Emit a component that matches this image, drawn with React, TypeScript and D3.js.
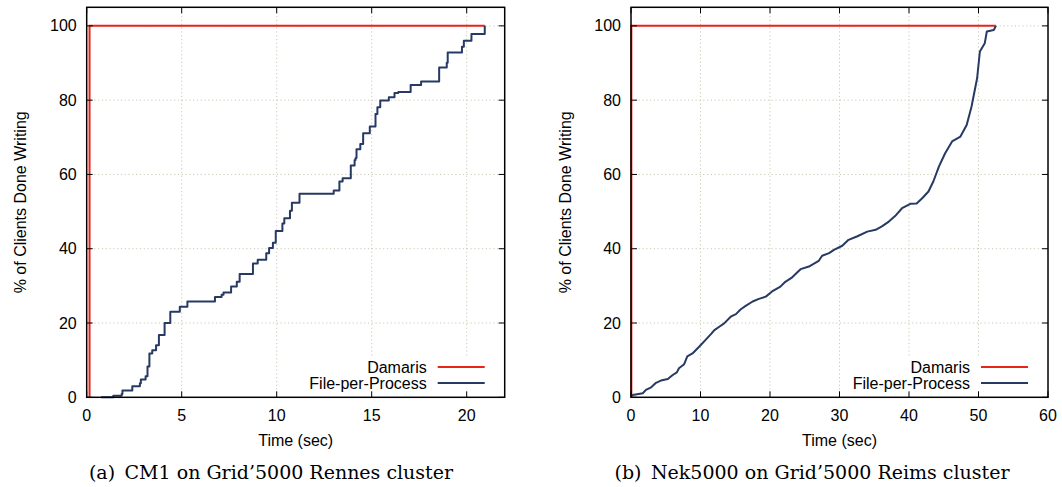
import React from "react";
import * as d3 from "d3";

// Cumulative % of clients done writing

// (a) CM1 on Rennes: step function, [time, percent] with percent holding from that time on
const cm1FilePerProcess: [number, number][] = [
  [0.75, 0], [1.4, 0.4], [1.84, 0.9], [1.88, 1.8], [2.4, 3.0], [2.8, 3.8], [2.85, 4.8],
  [3.1, 5.7], [3.2, 8.3], [3.3, 11.8], [3.45, 12.7], [3.65, 14], [3.8, 16.8], [4.1, 20],
  [4.4, 23], [4.9, 24.4], [5.3, 25.8], [6.75, 27], [7.1, 27.6], [7.2, 28.2], [7.6, 29.8],
  [7.9, 31.1], [8.05, 33.2], [8.75, 36], [9.0, 37], [9.45, 38.8], [9.6, 40.2], [9.8, 41.6],
  [9.95, 44.8], [10.3, 46.8], [10.4, 48.2], [10.7, 50.2], [10.8, 52.4], [11.2, 54.8],
  [13.0, 55.7], [13.3, 58.1], [13.47, 59], [13.9, 62.4], [14.1, 63.9], [14.15, 64.4],
  [14.2, 66.8], [14.4, 68.2], [14.55, 71.1], [14.9, 72.9], [15.2, 76.3], [15.3, 78.1],
  [15.45, 79.9], [15.9, 80.8], [16.2, 81.9], [16.4, 82.2], [17.05, 84.1], [17.6, 85],
  [18.55, 88.8], [18.95, 90.1], [19.0, 92.8], [19.75, 94.4], [19.85, 96], [20.25, 97.8],
  [20.95, 100],
];
const cm1Damaris: [number, number][] = [[0.15, 0], [0.15, 100], [20.95, 100]];

// (b) Nek5000 on Reims
const nekFilePerProcess: [number, number][] = [
  [0, 0.4], [0.24, 0.6], [1.7, 1.1], [2.15, 2.0], [2.9, 2.7], [3.6, 3.9], [4.3, 4.5],
  [5.3, 4.9], [6, 6], [6.6, 6.7], [6.9, 7.8], [7.65, 8.9], [8.1, 11], [8.85, 11.8],
  [9.8, 13.6], [10.8, 15.6], [11.5, 17], [12, 18.1], [12.7, 19], [13.4, 19.9], [14.35, 21.7],
  [15.1, 22.4], [15.8, 23.7], [16.5, 24.6], [17.5, 25.8], [18.4, 26.5], [19.4, 27.1],
  [20.3, 28.5], [21.5, 29.8], [22.2, 31.1], [23.2, 32.3], [23.9, 33.6], [24.4, 34.5],
  [25.6, 35.2], [27, 36.7], [27.5, 38.1], [28.5, 38.8], [29.2, 39.7], [30.4, 40.8],
  [31.3, 42.4], [32.5, 43.3], [34, 44.6], [35.2, 45.1], [36.1, 46], [37.1, 47.3], [38, 48.8],
  [39, 50.9], [40.2, 52.1], [41.1, 52.2], [41.9, 53.6], [42.8, 55.4], [43.5, 58.1],
  [44.3, 62.1], [45.2, 65.7], [46.2, 68.9], [47.4, 70.2], [48.3, 73.3], [49, 78.3],
  [49.8, 85.9], [50.2, 93.1], [50.9, 95.3], [51.2, 98.5], [52.2, 98.9], [52.5, 100],
];
const nekDamaris: [number, number][] = [[0.05, 0], [0.05, 100], [52.5, 100]];

const yTicks = [0, 20, 40, 60, 80, 100];
const cm1XTicks = [0, 5, 10, 15, 20];
const nekXTicks = [0, 10, 20, 30, 40, 50, 60];

const seriesNames = ["Damaris", "File-per-Process"];
const seriesColors = ["#e8251b", "#263a63"];

const W = 1062;
const H = 487;
const sans = "'Liberation Sans', Arial, sans-serif";
const serif = "'DejaVu Serif', serif";

interface PanelSpec {
  left: number;
  right: number;
  xMax: number;
  xTicks: number[];
  damaris: [number, number][];
  fpp: [number, number][];
  stepped: boolean;
  caption: string;
  captionX: number;
}

const panels: PanelSpec[] = [
  {
    left: 86.7, right: 504.7, xMax: 22, xTicks: cm1XTicks,
    damaris: cm1Damaris, fpp: cm1FilePerProcess, stepped: true,
    caption: "(a)\u2002CM1 on Grid\u20195000 Rennes cluster", captionX: 271,
  },
  {
    left: 631, right: 1048, xMax: 60, xTicks: nekXTicks,
    damaris: nekDamaris, fpp: nekFilePerProcess, stepped: false,
    caption: "(b)\u2002Nek5000 on Grid\u20195000 Reims cluster", captionX: 812,
  },
];

const App: React.FC = () => {
  const ref = React.useRef<SVGSVGElement>(null);

  React.useEffect(() => {
    const svg = d3.select(ref.current);
    svg.selectAll("*").remove();
    const top = 7.3, bottom = 397.3;
    const fs = 16;

    panels.forEach((p) => {
      const x = d3.scaleLinear().domain([0, p.xMax]).range([p.left, p.right]);
      const y = d3.scaleLinear().domain([0, 105]).range([bottom, top]);
      const g = svg.append("g");

      // dotted grid
      g.selectAll(".gx")
        .data(p.xTicks.filter((t) => t > 0 && t < p.xMax))
        .join("line")
        .attr("x1", (d) => x(d)).attr("x2", (d) => x(d))
        .attr("y1", bottom).attr("y2", top)
        .attr("stroke", "#c9c9b5").attr("stroke-dasharray", "1.2,2.6");
      g.selectAll(".gy")
        .data(yTicks.filter((t) => t > 0))
        .join("line")
        .attr("x1", p.left).attr("x2", p.right)
        .attr("y1", (d) => y(d)).attr("y2", (d) => y(d))
        .attr("stroke", "#c9c9b5").attr("stroke-dasharray", "1.2,2.6");

      // key box is opaque in gnuplot
      g.append("rect")
        .attr("x", p.right - 200).attr("y", 358)
        .attr("width", 198).attr("height", 38)
        .attr("fill", "#fff");

      // curves
      const line = d3.line<[number, number]>()
        .x((d) => x(d[0])).y((d) => y(d[1]))
        .curve(p.stepped ? d3.curveStepAfter : d3.curveLinear);
      g.append("path").datum(p.damaris)
        .attr("d", d3.line<[number, number]>().x((d) => x(d[0])).y((d) => y(d[1])))
        .attr("fill", "none").attr("stroke", seriesColors[0]).attr("stroke-width", 2);
      g.append("path").datum(p.fpp)
        .attr("d", line)
        .attr("fill", "none").attr("stroke", seriesColors[1]).attr("stroke-width", 2)
        .attr("stroke-linejoin", "round");

      // legend
      seriesNames.forEach((name, i) => {
        const ly = 367 + i * 16;
        g.append("text")
          .attr("x", p.right - 78).attr("y", ly).attr("dy", "0.35em")
          .attr("text-anchor", "end")
          .attr("font-family", sans).attr("font-size", fs)
          .text(name);
        g.append("line")
          .attr("x1", p.right - 67).attr("x2", p.right - 20)
          .attr("y1", ly).attr("y2", ly)
          .attr("stroke", seriesColors[i]).attr("stroke-width", 2);
      });

      // frame and mirrored inward ticks
      g.append("rect")
        .attr("x", p.left).attr("y", top)
        .attr("width", p.right - p.left).attr("height", bottom - top)
        .attr("fill", "none").attr("stroke", "#000").attr("stroke-width", 1.5);
      p.xTicks.forEach((t) => {
        g.append("line").attr("x1", x(t)).attr("x2", x(t)).attr("y1", bottom).attr("y2", bottom - 6).attr("stroke", "#000");
        g.append("line").attr("x1", x(t)).attr("x2", x(t)).attr("y1", top).attr("y2", top + 6).attr("stroke", "#000");
      });
      yTicks.forEach((t) => {
        g.append("line").attr("x1", p.left).attr("x2", p.left + 6).attr("y1", y(t)).attr("y2", y(t)).attr("stroke", "#000");
        g.append("line").attr("x1", p.right).attr("x2", p.right - 6).attr("y1", y(t)).attr("y2", y(t)).attr("stroke", "#000");
      });

      // tick labels
      g.selectAll(".xl").data(p.xTicks).join("text")
        .attr("x", (d) => x(d)).attr("y", 415).attr("dy", "0.35em")
        .attr("text-anchor", "middle")
        .attr("font-family", sans).attr("font-size", fs)
        .text((d) => d);
      g.selectAll(".yl").data(yTicks).join("text")
        .attr("x", p.left - 10).attr("y", (d) => y(d)).attr("dy", "0.35em")
        .attr("text-anchor", "end")
        .attr("font-family", sans).attr("font-size", fs)
        .text((d) => d);

      // axis titles
      g.append("text")
        .attr("x", (p.left + p.right) / 2).attr("y", 440).attr("dy", "0.35em")
        .attr("text-anchor", "middle")
        .attr("font-family", sans).attr("font-size", fs)
        .text("Time (sec)");
      g.append("text")
        .attr("transform", `translate(${p.left - 66},${(top + bottom) / 2}) rotate(-90)`)
        .attr("dy", "0.35em")
        .attr("text-anchor", "middle")
        .attr("font-family", sans).attr("font-size", fs)
        .text("% of Clients Done Writing");

      // caption
      g.append("text")
        .attr("x", p.captionX).attr("y", 472).attr("dy", "0.35em")
        .attr("text-anchor", "middle")
        .attr("font-family", serif).attr("font-size", 19)
        .text(p.caption);
    });
  }, []);

  return (
    <svg
      ref={ref}
      width={W}
      height={H}
      style={{ position: "absolute", left: 0, top: 0, background: "#fff" }}
    />
  );
};

export default App;
